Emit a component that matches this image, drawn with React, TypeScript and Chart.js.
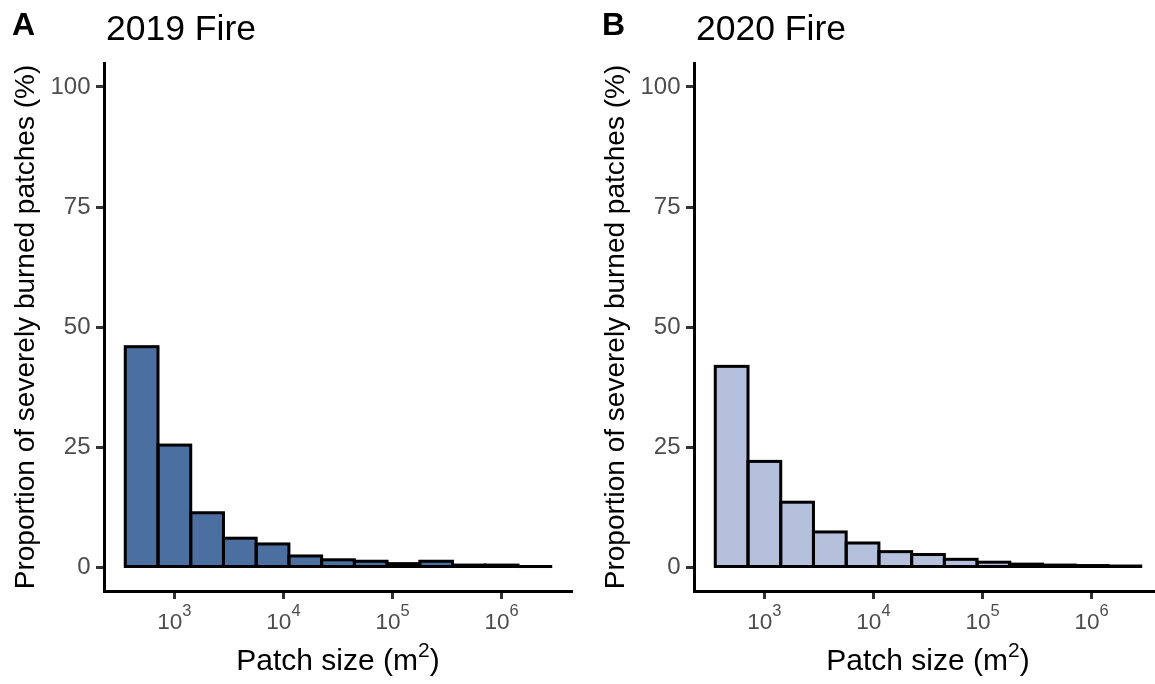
import React, { useEffect, useRef } from 'react';
import { Chart, registerables } from 'chart.js';

Chart.register(...registerables);

// ---- data ----
// bin centres in log10(patch size, m^2); bin width 0.3 decades
const binCentersLog10 = [2.7, 3.0, 3.3, 3.6, 3.9, 4.2, 4.5, 4.8, 5.1, 5.4, 5.7, 6.0, 6.3];
const fire2019Percent = [45.9, 25.4, 11.3, 6.0, 4.8, 2.3, 1.5, 1.2, 0.7, 1.2, 0.4, 0.4, 0.1];
const fire2020Percent = [41.8, 22.0, 13.5, 7.3, 5.0, 3.2, 2.6, 1.6, 1.0, 0.6, 0.4, 0.3, 0.2];
const yTickValues = [0, 25, 50, 75, 100];
const xTickExponents = [3, 4, 5, 6];
const panelTags = ['A', 'B'];
const panelTitles = ['2019 Fire', '2020 Fire'];
const xTitleParts = ['Patch size (m', '2', ')'];
const yTitle = 'Proportion of severely burned patches (%)';

const FONT = "'Liberation Sans', Arial, Helvetica, sans-serif";
const X_MIN = 2.355;
const X_MAX = 6.645;
const Y_MIN = -5;
const Y_MAX = 105;

type PanelProps = {
  tag: string;
  title: string;
  values: number[];
  fill: string;
  left: number;
};

function Panel({ tag, title, values, fill, left }: PanelProps) {
  const ref = useRef<HTMLCanvasElement>(null);

  useEffect(() => {
    const canvas = ref.current;
    if (!canvas) return;

    const overlay = {
      id: 'overlay',
      afterDatasetsDraw(chart: any) {
        const ctx = chart.ctx as CanvasRenderingContext2D;
        const meta = chart.getDatasetMeta(0);
        ctx.save();
        ctx.lineWidth = 3;
        ctx.strokeStyle = '#000000';
        ctx.lineJoin = 'miter';
        meta.data.forEach((bar: any) => {
          const p = bar.getProps(['x', 'y', 'base', 'width'], true);
          ctx.strokeRect(p.x - p.width / 2, p.y, p.width, p.base - p.y);
        });
        ctx.restore();
      },
      afterDraw(chart: any) {
        const ctx = chart.ctx as CanvasRenderingContext2D;
        const area = chart.chartArea;
        const xs = chart.scales.x;
        ctx.save();
        ctx.textBaseline = 'alphabetic';
        ctx.textAlign = 'left';
        ctx.fillStyle = '#000000';
        // panel tag and title
        ctx.font = `bold 32px ${FONT}`;
        ctx.fillText(tag, 12, 35);
        ctx.font = `35.5px ${FONT}`;
        ctx.fillText(title, area.left + 2, 40);

        // x axis title with superscript
        const mainFont = `30px ${FONT}`;
        const supFont = `21px ${FONT}`;
        ctx.font = mainFont;
        const w0 = ctx.measureText(xTitleParts[0]).width;
        const w2 = ctx.measureText(xTitleParts[2]).width;
        ctx.font = supFont;
        const w1 = ctx.measureText(xTitleParts[1]).width;
        const cx = (area.left + area.right) / 2;
        const tx = cx - (w0 + w1 + w2) / 2;
        const ty = area.bottom + 79;
        ctx.font = mainFont;
        ctx.fillText(xTitleParts[0], tx, ty);
        ctx.font = supFont;
        ctx.fillText(xTitleParts[1], tx + w0, ty - 13.5);
        ctx.font = mainFont;
        ctx.fillText(xTitleParts[2], tx + w0 + w1, ty);

        // x tick labels 10^k
        ctx.fillStyle = '#4D4D4D';
        xTickExponents.forEach((e) => {
          const px = xs.getPixelForValue(e);
          ctx.font = `22.6px ${FONT}`;
          const wb = ctx.measureText('10').width;
          ctx.font = `16.5px ${FONT}`;
          const we = ctx.measureText(String(e)).width;
          const x0 = px - (wb + we) / 2;
          ctx.font = `22.6px ${FONT}`;
          ctx.fillText('10', x0, area.bottom + 38);
          ctx.font = `16.5px ${FONT}`;
          ctx.fillText(String(e), x0 + wb, area.bottom + 25);
        });
        ctx.restore();
      },
    };

    const chart = new Chart(canvas, {
      type: 'bar',
      data: {
        datasets: [
          {
            data: binCentersLog10.map((x, i) => ({ x, y: values[i] })),
            backgroundColor: fill,
            borderWidth: 0,
            categoryPercentage: 1,
            barPercentage: 1,
          } as any,
        ],
      },
      options: {
        responsive: false,
        animation: false,
        devicePixelRatio: 1,
        layout: { padding: { left: 0, top: 63, right: 18, bottom: 0 } },
        plugins: {
          legend: { display: false },
          tooltip: { enabled: false },
          title: { display: false },
        },
        scales: {
          x: {
            type: 'linear',
            min: X_MIN,
            max: X_MAX,
            offset: false,
            afterBuildTicks: (s: any) => {
              s.ticks = xTickExponents.map((v) => ({ value: v }));
            },
            afterFit: (s: any) => {
              s.height = 93;
            },
            ticks: { display: false },
            grid: {
              display: true,
              offset: false,
              drawOnChartArea: false,
              drawTicks: true,
              tickLength: 8,
              tickWidth: 3,
              tickColor: '#333333',
            },
            border: { display: true, width: 3, color: '#000000' },
            title: { display: false },
          } as any,
          y: {
            type: 'linear',
            min: Y_MIN,
            max: Y_MAX,
            afterBuildTicks: (s: any) => {
              s.ticks = yTickValues.map((v) => ({ value: v }));
            },
            afterFit: (s: any) => {
              s.width = 104;
            },
            ticks: {
              color: '#4D4D4D',
              font: { family: FONT, size: 24 },
              padding: 5.5,
            },
            grid: {
              display: true,
              drawOnChartArea: false,
              drawTicks: true,
              tickLength: 8,
              tickWidth: 3,
              tickColor: '#333333',
            },
            border: { display: true, width: 3, color: '#000000' },
            title: {
              display: true,
              text: yTitle,
              color: '#000000',
              font: { family: FONT, size: 28 },
              padding: { top: 9, bottom: 0 },
            },
          } as any,
        },
      },
      plugins: [overlay],
    });

    return () => {
      chart.destroy();
    };
  }, [tag, title, values, fill]);

  return (
    <canvas
      ref={ref}
      width={590}
      height={684}
      style={{ position: 'absolute', left, top: 0, width: 590, height: 684 }}
    />
  );
}

export default function App() {
  return (
    <div
      style={{
        position: 'fixed',
        left: 0,
        top: 0,
        width: 1155,
        height: 684,
        overflow: 'hidden',
        background: '#ffffff',
      }}
    >
      <Panel tag={panelTags[0]} title={panelTitles[0]} values={fire2019Percent} fill="#4B6FA0" left={0} />
      <Panel tag={panelTags[1]} title={panelTitles[1]} values={fire2020Percent} fill="#B5C0DD" left={590} />
    </div>
  );
}
